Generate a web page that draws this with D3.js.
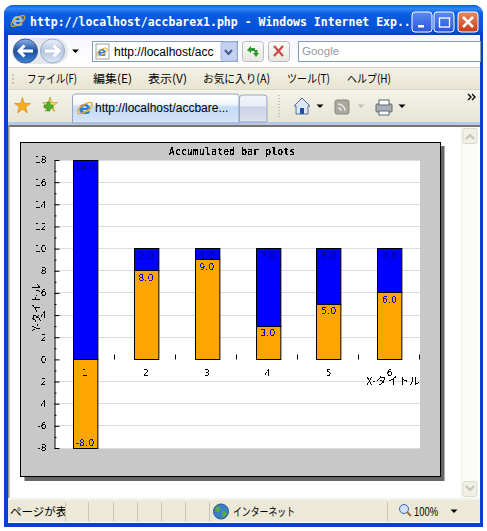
<!DOCTYPE html>
<html>
<head>
<meta charset="utf-8">
<script src="https://cdn.jsdelivr.net/npm/d3@7"></script>
<style>
	html, body { margin: 0; padding: 0; background: #fff; overflow: hidden; }
	svg { display: block; }
	.ui { font-family: "Noto Sans CJK JP", "Noto Sans", sans-serif; font-size: 11.5px; fill: #000; }
	.chart-text { font-family: "DejaVu Sans", sans-serif; font-size: 9px; fill: #000; }
	.chart-jp { font-family: "Noto Sans CJK JP", sans-serif; font-size: 11px; fill: #000; }
	.chart-title { font-family: "DejaVu Sans Mono", monospace; font-weight: bold; font-size: 10px; fill: #000; }
	.bar-label { font-family: "DejaVu Sans", sans-serif; font-size: 9.5px; }
	.bar-label.orange { fill: #0000e0; }
	.bar-label.blue { fill: #000090; }
</style>
</head>
<body>
<svg id="page" width="487" height="531" viewBox="0 0 487 531"></svg>
<script>
// chart data
const categories = ["1", "2", "3", "4", "5", "6"];
const orange_values = [-8, 8, 9, 3, 5, 6];
const blue_values = [18, 2, 1, 7, 5, 4];
const y_ticks = [18, 16, 14, 12, 10, 8, 6, 4, 2, 0, -2, -4, -6, -8];
const y_minor_ticks = [17, 15, 13, 11, 9, 7, 5, 3, 1, -1, -3, -5, -7];
const chart_title = "Accumulated bar plots";
const x_title = "X-タイトル";
const y_title = "Y-タイトル";

// browser window texts: label, left edge, width
const menu_items = [["ファイル(F)", 27, 50], ["編集(E)", 93, 39], ["表示(V)", 148, 39], ["お気に入り(A)", 203, 67], ["ツール(T)", 287, 43], ["ヘルプ(H)", 347, 44]];
const status_separators = [65, 88, 113, 137, 161, 185, 209, 387];

const svg = d3.select("#page");
const defs = svg.append("defs");

function gradient(id, stops, x2=0, y2=1) {
	const g = defs.append("linearGradient").attr("id", id)
		.attr("x1", 0).attr("y1", 0).attr("x2", x2).attr("y2", y2);
	stops.forEach(s => g.append("stop").attr("offset", s[0]).attr("stop-color", s[1]));
}
gradient("title-bar", [[0, "#0a5fe8"], [0.12, "#2f86f5"], [0.3, "#0a5ce0"], [0.85, "#0450d8"], [1, "#0a3fc0"]]);
gradient("toolbar", [[0, "#f6f7fc"], [1, "#ffffff"]]);
gradient("menu", [[0, "#f4f2e6"], [1, "#e8e5d2"]]);
gradient("tabrow", [[0, "#f5f4ea"], [1, "#e6e4d4"]]);
gradient("tab", [[0, "#ffffff"], [0.35, "#f2f6fc"], [0.45, "#c6dcf8"], [1, "#d4e4fa"]]);
gradient("tab2", [[0, "#f2f3fa"], [0.4, "#eceef8"], [0.45, "#cdd3e6"], [1, "#dde0ef"]]);
gradient("btn-red", [[0, "#e88a62"], [1, "#c83a18"]]);
gradient("btn-blue", [[0, "#5a8cf0"], [1, "#2a55d8"]]);
gradient("back", [[0, "#8ab4ea"], [0.5, "#1c4c9c"], [1, "#3e86d8"]]);
gradient("fwd", [[0, "#eef2fa"], [0.5, "#b4c6de"], [1, "#dce8f6"]]);
gradient("small-btn", [[0, "#fafbf6"], [1, "#e6e8de"]]);

// thresholded alpha, the reference text has no antialiasing
const pixel = defs.append("filter").attr("id", "pixel")
	.attr("x", "-5%").attr("y", "-5%").attr("width", "110%").attr("height", "110%")
	.attr("color-interpolation-filters", "sRGB");
pixel.append("feComponentTransfer").append("feFuncA")
	.attr("type", "discrete").attr("tableValues", "0 0 1 1");

function rect(parent, x, y, w, h, fill, stroke, rx) {
	const r = parent.append("rect").attr("x", x).attr("y", y).attr("width", w).attr("height", h).attr("fill", fill);
	if (stroke) r.attr("stroke", stroke);
	if (rx) r.attr("rx", rx);
	return r;
}
function label(parent, s, x, y, cls="ui") {
	return parent.append("text").attr("class", cls).attr("x", x).attr("y", y).text(s);
}
function fitted(parent, s, x, y, w) {
	return label(parent, s, x, y).attr("textLength", w).attr("lengthAdjust", "spacingAndGlyphs");
}

function ieIcon(parent, x, y, s=1, color="#2a78d8") {
	const g = parent.append("g").attr("transform", `translate(${x},${y}) scale(${s})`);
	g.append("text").attr("x", -6.5).attr("y", 5.5).attr("font-family", "DejaVu Sans")
		.attr("font-size", 18).attr("font-weight", "bold").attr("fill", color).text("e");
	g.append("ellipse").attr("rx", 8.5).attr("ry", 3.5).attr("transform", "rotate(-35)")
		.attr("fill", "none").attr("stroke", "#e8a820").attr("stroke-width", 1.3);
}
function arrowDown(parent, x, y, fill="#000") {
	parent.append("path").attr("d", `M${x-3.5},${y-1.5}h7l-3.5,3.5z`).attr("fill", fill);
}

function drawWindow() {
	const win = svg.append("g");

	// outer frame and title bar
	win.append("path").attr("d", "M4,527V14a9,9 0 0 1 9,-9H474a9,9 0 0 1 9,9V527z").attr("fill", "#0a3fd0");
	win.append("path").attr("d", "M4,35V14a9,9 0 0 1 9,-9H474a9,9 0 0 1 9,9V35z").attr("fill", "url(#title-bar)");
	label(win, "http://localhost/accbarex1.php - Windows Internet Exp...", 30, 26)
		.attr("style", "font-family:'DejaVu Sans Mono',monospace;font-weight:bold;font-size:11.5px;fill:#fff");
	ieIcon(win, 18, 21, 0.95, "#8cc0f4");

	// min, max, close
	[[412, "url(#btn-blue)"], [434, "url(#btn-blue)"], [458, "url(#btn-red)"]].forEach(b => {
		rect(win, b[0], 12, 20, 20, b[1], "#fff", 3);
	});
	rect(win, 418, 25, 6, 2.5, "#fff");
	rect(win, 439.5, 18, 10, 9, "none", "#fff").attr("stroke-width", 1.3);
	win.append("path").attr("d", "M463,17l10,10M473,17l-10,10").attr("stroke", "#fff").attr("stroke-width", 2.5);

	// client background
	rect(win, 8, 35, 472, 488, "#fff");

	// address toolbar
	rect(win, 8, 35, 472, 32, "url(#toolbar)");
	rect(win, 12, 38, 56, 26, "#e4e7ec", null, 13);
	win.append("circle").attr("cx", 25.5).attr("cy", 51).attr("r", 12).attr("fill", "url(#back)").attr("stroke", "#3a5a90");
	win.append("circle").attr("cx", 52.5).attr("cy", 51).attr("r", 12).attr("fill", "url(#fwd)").attr("stroke", "#9aaac6");
	win.append("path").attr("d", "M33,51H20M24.5,45.5l-5.5,5.5l5.5,5.5").attr("fill", "none").attr("stroke", "#fff").attr("stroke-width", 3);
	win.append("path").attr("d", "M45,51H58M53.5,45.5l5.5,5.5l-5.5,5.5").attr("fill", "none").attr("stroke", "#fff").attr("stroke-width", 3);
	arrowDown(win, 75.5, 51);

	rect(win, 92.5, 41.5, 145, 20, "#fff", "#7f9db9");
	rect(win, 96, 44, 13, 15, "#fff", "#a0a0a0");
	ieIcon(win, 102, 52, 0.7);
	label(win, "http://localhost/acc", 114, 56).style("font-family", "'Liberation Sans', sans-serif").style("font-size", "12px");
	rect(win, 221, 42, 16, 19, "#c4d2f2", "#a8b8e0", 2);
	win.append("path").attr("d", "M225,50l3.5,4l3.5,-4").attr("fill", "none").attr("stroke", "#44578c").attr("stroke-width", 2);

	rect(win, 242.5, 41.5, 21, 20, "url(#small-btn)", "#b8bcc4", 3);
	win.append("path").attr("d", "M247,50l4,-4v2h4v3h-4v2zM259,53l-3,4l-3,-4h1.5v-3h3v3z").attr("fill", "#2a9a30");
	rect(win, 268.5, 41.5, 21, 20, "url(#small-btn)", "#b8bcc4", 3);
	win.append("path").attr("d", "M274,46l9,10M283,46l-9,10").attr("stroke", "#c84848").attr("stroke-width", 2.2);

	rect(win, 298.5, 41.5, 182, 20, "#fff", "#7f9db9");
	label(win, "Google", 302, 55).style("font-family", "'Liberation Sans', sans-serif").style("font-size", "11.5px").style("fill", "#9a9a9a");

	// menu
	rect(win, 8, 67, 472, 22, "url(#menu)");
	win.append("line").attr("x1", 8).attr("x2", 480).attr("y1", 67.5).attr("y2", 67.5).attr("stroke", "#d8d6c8");
	win.append("line").attr("x1", 13).attr("x2", 13).attr("y1", 74).attr("y2", 84).attr("stroke", "#a0a090").attr("stroke-dasharray", "2 2");
	menu_items.forEach(m => fitted(win, m[0], m[1], 83, m[2]));

	// tab row
	rect(win, 8, 89, 472, 34, "url(#tabrow)");
	win.append("line").attr("x1", 8).attr("x2", 480).attr("y1", 89.5).attr("y2", 89.5).attr("stroke", "#d8d6c8");
	rect(win, 8, 122, 472, 3, "#b8c8ec");

	win.append("path").attr("d", d3.symbol(d3.symbolStar, 80)()).attr("transform", "translate(22.5,106)")
		.attr("fill", "#f8b020").attr("stroke", "#c88018").attr("stroke-width", 0.6);
	win.append("path").attr("d", d3.symbol(d3.symbolStar, 70)()).attr("transform", "translate(50,105)")
		.attr("fill", "#f0d850").attr("stroke", "#b09020").attr("stroke-width", 0.6);
	win.append("path").attr("d", "M47,100h3v3h3v3h-3v3h-3v-3h-3v-3h3z").attr("transform", "translate(0,2)").attr("fill", "#50b030").attr("stroke", "#287818").attr("stroke-width", 0.5);

	win.append("path").attr("d", "M72.5,123V97a3,3 0 0 1 3,-3H236a3,3 0 0 1 3,3V123z").attr("fill", "url(#tab)").attr("stroke", "#97a5c0");
	ieIcon(win, 85, 108, 1);
	label(win, "http://localhost/accbare...", 95, 112).style("font-family", "'Liberation Sans', sans-serif").style("font-size", "12px");
	win.append("path").attr("d", "M239.5,122V98a3,3 0 0 1 3,-3H264a3,3 0 0 1 3,3V122z").attr("fill", "url(#tab2)").attr("stroke", "#97a5c0");

	win.append("line").attr("x1", 279).attr("x2", 279).attr("y1", 95).attr("y2", 118).attr("stroke", "#9a9a90").attr("stroke-dasharray", "1 2");

	// home, feed, print
	win.append("path").attr("d", "M294,106l8,-8l8,8h-2v8h-12v-8z").attr("fill", "#dde6f2").attr("stroke", "#5070a0");
	rect(win, 300, 108, 4, 6, "#2050a0");
	arrowDown(win, 320, 106);
	rect(win, 335, 100, 14, 14, "#a8a8a0", "#888880", 2);
	win.append("path").attr("d", "M338,104a7,7 0 0 1 7,7M338,108a3,3 0 0 1 3,3").attr("fill", "none").attr("stroke", "#e8e8e0").attr("stroke-width", 1.5);
	arrowDown(win, 361, 106, "#c0c0b8");
	rect(win, 376, 104, 16, 8, "#aab0b8", "#60666e", 1);
	rect(win, 379, 100, 10, 5, "#fff", "#60666e");
	rect(win, 379, 111, 10, 4, "#fff", "#60666e");
	arrowDown(win, 402, 106);
	win.append("path").attr("d", "M468,94l3,3l-3,3M472,94l3,3l-3,3").attr("fill", "none").attr("stroke", "#000").attr("stroke-width", 1.3);

	// content edge and scrollbar
	rect(win, 8, 125, 472, 2, "#7a7768");
	rect(win, 8, 125, 1.5, 373, "#9a9788");
	rect(win, 462, 127, 16, 371, "#fafaf6");
	win.append("line").attr("x1", 461.5).attr("x2", 461.5).attr("y1", 127).attr("y2", 498).attr("stroke", "#eeeee6");
	rect(win, 463, 128.5, 14, 15, "#f0f0e6", "#dcdccc", 2);
	rect(win, 463, 481.5, 14, 15, "#f0f0e6", "#dcdccc", 2);
	win.append("path").attr("d", "M466,139l4,-4l4,4").attr("fill", "none").attr("stroke", "#c4c4b8").attr("stroke-width", 2);
	win.append("path").attr("d", "M466,486l4,4l4,-4").attr("fill", "none").attr("stroke", "#c4c4b8").attr("stroke-width", 2);

	// status bar
	rect(win, 8, 498, 472, 2, "#f4f3ea");
	rect(win, 8, 500, 472, 22, "#ece9d8");
	const status_clip = defs.append("clipPath").attr("id", "status-clip");
	status_clip.append("rect").attr("x", 8).attr("y", 498).attr("width", 57).attr("height", 24);
	label(win, "ページが表示", 10, 516).attr("clip-path", "url(#status-clip)");
	status_separators.forEach(x => {
		win.append("line").attr("x1", x + 0.5).attr("x2", x + 0.5).attr("y1", 502).attr("y2", 521).attr("stroke", "#c8c5b2");
	});
	win.append("circle").attr("cx", 221).attr("cy", 511.5).attr("r", 7.5).attr("fill", "#3a80c8").attr("stroke", "#28558c");
	win.append("path").attr("d", "M217,506q5,2 3,5q-4,2 -5,-1zM222,511q5,0 5,3q-2,4 -5,3z").attr("fill", "#58a848");
	fitted(win, "インターネット", 233, 516, 62);
	win.append("circle").attr("cx", 404).attr("cy", 509).attr("r", 4.5).attr("fill", "#cfe0f8").attr("stroke", "#4068b0");
	win.append("path").attr("d", "M407,512l4,4").attr("stroke", "#a07040").attr("stroke-width", 2);
	label(win, "100%", 414, 516).attr("textLength", 24).attr("lengthAdjust", "spacingAndGlyphs")
		.style("font-family", "'Liberation Sans', sans-serif").style("font-size", "12px");
	arrowDown(win, 454, 511);
}

function drawChart() {
	const left = 54.5, right = 420, top = 160, bottom = 448;

	const x = d3.scaleBand().domain(categories).range([left, right]).paddingInner(0.6).paddingOuter(0.3);
	const x_edges = d3.scaleBand().domain(categories).range([left, right]);
	const y = d3.scaleLinear().domain([-8, 18]).range([bottom, top]);
	const py = v => Math.floor(y(v)) + 0.5; // crisp pixel rows

	const chart = svg.append("g");

	// shadow, frame, plot area
	rect(chart, 24.5, 146, 420, 335, "#666666");
	rect(chart, 20.5, 142.5, 420, 334, "#c8c8c8", "#000");
	rect(chart, left, top, right - left, bottom - top, "#fff");

	// grid
	chart.append("g").selectAll("line")
		.data(y_ticks.filter(d => d !== 0))
		.enter().append("line")
		.attr("x1", left).attr("x2", right)
		.attr("y1", d => py(d)).attr("y2", d => py(d))
		.attr("stroke", "#dddddd");

	// stacked bars, negative part hangs below zero
	const bars = categories.map((c, i) => {
		const base = Math.max(orange_values[i], 0);
		return { c: c, orange: orange_values[i], blue: blue_values[i], base: base };
	});

	chart.append("g").selectAll("rect")
		.data(bars)
		.enter().append("rect")
		.attr("x", d => Math.round(x(d.c)) + 0.5)
		.attr("width", x.bandwidth())
		.attr("y", d => py(Math.max(d.orange, 0)))
		.attr("height", d => Math.abs(py(d.orange) - py(0)))
		.attr("fill", "#ffa500").attr("stroke", "#000");

	chart.append("g").selectAll("rect")
		.data(bars)
		.enter().append("rect")
		.attr("x", d => Math.round(x(d.c)) + 0.5)
		.attr("width", x.bandwidth())
		.attr("y", d => py(d.base + d.blue))
		.attr("height", d => py(d.base) - py(d.base + d.blue))
		.attr("fill", "#0000ff").attr("stroke", "#000");

	// value labels, inside the far end of each segment
	const labels = chart.append("g").attr("filter", "url(#pixel)");
	labels.selectAll("text.orange")
		.data(bars)
		.enter().append("text")
		.attr("class", "bar-label orange")
		.attr("text-anchor", "middle")
		.attr("x", d => x(d.c) + x.bandwidth() / 2)
		.attr("y", d => d.orange < 0 ? y(d.orange) - 2 : y(d.orange) + 10)
		.text(d => d.orange.toFixed(1));
	labels.selectAll("text.blue")
		.data(bars)
		.enter().append("text")
		.attr("class", "bar-label blue")
		.attr("text-anchor", "middle")
		.attr("x", d => x(d.c) + x.bandwidth() / 2)
		.attr("y", d => y(d.base + d.blue) + 10)
		.text(d => d.blue.toFixed(1));

	// y axis, ticks point into the plot
	const y_axis = d3.axisLeft(y)
		.tickValues(y_ticks)
		.tickSizeInner(-5)
		.tickSizeOuter(0)
		.tickPadding(8)
		.tickFormat(d => (d === -2 || d === -4) ? String(-d) : String(d));
	const y_g = chart.append("g").attr("transform", `translate(${left},0)`).call(y_axis);
	y_g.select(".domain").attr("stroke", "#000");
	y_g.selectAll("text").attr("class", "chart-text").attr("filter", "url(#pixel)");

	chart.append("g").attr("transform", `translate(${left},0)`)
		.call(d3.axisLeft(y).tickValues(y_minor_ticks).tickSize(-2).tickFormat(""))
		.select(".domain").remove();

	// x ticks at the band edges, no axis line
	chart.append("g").selectAll("line")
		.data(categories.map(c => x_edges(c) + x_edges.bandwidth()))
		.enter().append("line")
		.attr("x1", d => Math.round(d) - 0.5).attr("x2", d => Math.round(d) - 0.5)
		.attr("y1", py(0) - 5).attr("y2", py(0))
		.attr("stroke", "#000");

	chart.append("g").attr("filter", "url(#pixel)").selectAll("text")
		.data(categories)
		.enter().append("text")
		.attr("class", "chart-text")
		.attr("text-anchor", "middle")
		.attr("x", d => x(d) + x.bandwidth() / 2)
		.attr("y", y(0) + 17)
		.text(d => d);

	// titles
	const titles = chart.append("g").attr("filter", "url(#pixel)");
	titles.append("text").attr("class", "chart-title").attr("text-anchor", "middle")
		.attr("x", 232).attr("y", 155).text(chart_title);
	titles.append("text").attr("class", "chart-jp").attr("text-anchor", "end")
		.attr("x", right).attr("y", 385).text(x_title);
	titles.append("text").attr("class", "chart-jp").attr("text-anchor", "middle")
		.style("font-size", "10px")
		.attr("transform", "translate(40,307) rotate(-90)").text(y_title);
}

drawWindow();
drawChart();
</script>
</body>
</html>
